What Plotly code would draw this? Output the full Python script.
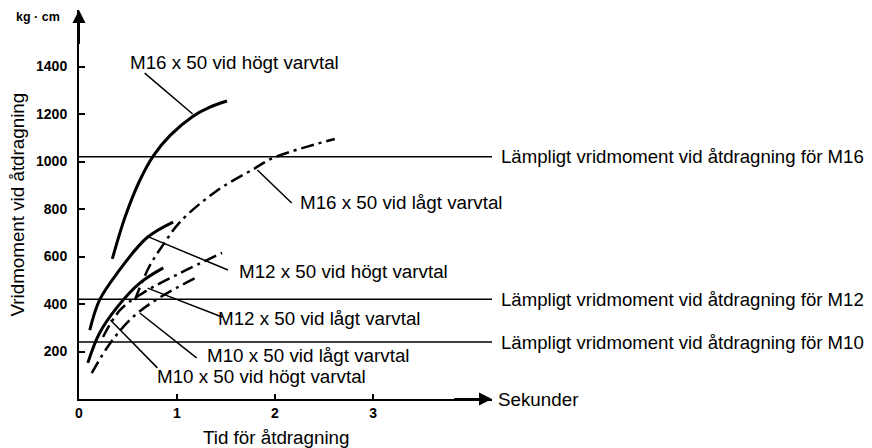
import plotly.graph_objects as go

# ---- data ----
m16_hi_x = [0.34, 0.47, 0.62, 0.76, 0.93, 1.16, 1.33, 1.51]
m16_hi_y = [590, 766, 920, 1025, 1110, 1190, 1228, 1255]

m16_lo_x = [0.57, 0.72, 0.86, 1.03, 1.40, 1.78, 1.98, 2.61]
m16_lo_y = [417, 560, 650, 745, 875, 968, 1015, 1095]

m12_hi_x = [0.11, 0.21, 0.39, 0.69, 0.96]
m12_hi_y = [290, 417, 530, 678, 745]

m12_lo_x = [0.245, 0.42, 0.65, 1.03, 1.46]
m12_lo_y = [261, 375, 446, 530, 615]

m10_hi_x = [0.09, 0.21, 0.39, 0.62, 0.86]
m10_hi_y = [152, 278, 387, 488, 552]

m10_lo_x = [0.13, 0.32, 0.55, 0.83, 1.21]
m10_lo_y = [109, 236, 345, 429, 514]

ref_values = [1020, 420, 240]
ref_labels = ["Lämpligt vridmoment vid åtdragning för M16",
              "Lämpligt vridmoment vid åtdragning för M12",
              "Lämpligt vridmoment vid åtdragning för M10"]

x_ticks = [0, 1, 2, 3]
y_ticks = [200, 400, 600, 800, 1000, 1200, 1400]

curve_names = ["M16 x 50 vid högt varvtal", "M16 x 50 vid lågt varvtal",
               "M12 x 50 vid högt varvtal", "M12 x 50 vid lågt varvtal",
               "M10 x 50 vid högt varvtal", "M10 x 50 vid lågt varvtal"]

X_MAX = 4.214
Y_MAX = 1638
FONT = "Liberation Sans, Arial, sans-serif"
FS = 18.8

fig = go.Figure()

solid = dict(color="black", width=3)
dashdot = dict(color="black", width=2.5, dash="13px,5px,3px,5px")

series = [
    (m16_hi_x, m16_hi_y, solid),
    (m16_lo_x, m16_lo_y, dashdot),
    (m12_hi_x, m12_hi_y, solid),
    (m12_lo_x, m12_lo_y, dashdot),
    (m10_hi_x, m10_hi_y, solid),
    (m10_lo_x, m10_lo_y, dashdot),
]
for (xs, ys, ln), name in zip(series, curve_names):
    fig.add_trace(go.Scatter(x=xs, y=ys, mode="lines", name=name,
                             line=dict(shape="spline", smoothing=1.0, **ln),
                             showlegend=False, hoverinfo="skip"))

# reference lines
for v in ref_values:
    fig.add_trace(go.Scatter(x=[0, X_MAX], y=[v, v], mode="lines",
                             line=dict(color="black", width=1.5),
                             showlegend=False, hoverinfo="skip"))

annotations = []
for v, lab in zip(ref_values, ref_labels):
    annotations.append(dict(x=X_MAX, y=v, xref="x", yref="y", text=lab,
                            showarrow=False, xanchor="left", yanchor="middle",
                            xshift=7, font=dict(family=FONT, size=18.6, color="black")))

# curve labels: (label anchor x, y), leader end near label, leader end on curve
label_layout = [
    (0.50, 1419, (0.67, 1372), (1.16, 1200)),
    (2.235, 829, (2.17, 825), (1.82, 964)),
    (1.61, 539, (1.52, 543), (0.69, 686)),
    (1.40, 341, (1.46, 345), (0.70, 467)),
    (0.78, 93, (0.80, 131), (0.32, 333)),
    (1.29, 185, (1.20, 173), (0.62, 362)),
]
shapes = []
for name, (lx, ly, p0, p1) in zip(curve_names, label_layout):
    annotations.append(dict(x=lx, y=ly, xref="x", yref="y", text=name,
                            showarrow=False, xanchor="left", yanchor="middle",
                            font=dict(family=FONT, size=FS, color="black")))
    shapes.append(dict(type="line", xref="x", yref="y", x0=p0[0], y0=p0[1],
                       x1=p1[0], y1=p1[1], line=dict(color="black", width=1.5)))

# axis arrows
annotations.append(dict(x=0, y=Y_MAX, ax=0, ay=Y_MAX - 150, xref="x", yref="y",
                        axref="x", ayref="y", showarrow=True, arrowhead=2,
                        arrowsize=1.3, arrowwidth=2, arrowcolor="black", text=""))
annotations.append(dict(x=X_MAX, y=0, ax=X_MAX - 0.4, ay=0, xref="x", yref="y",
                        axref="x", ayref="y", showarrow=True, arrowhead=2,
                        arrowsize=1.3, arrowwidth=2, arrowcolor="black", text=""))

# axis texts
annotations.append(dict(x=-0.150, y=0.5, xref="paper", yref="paper",
                        text="Vridmoment vid åtdragning", textangle=-90,
                        showarrow=False, xanchor="center", yanchor="middle",
                        font=dict(family=FONT, size=FS, color="black")))
annotations.append(dict(x=0.477, y=-0.098, xref="paper", yref="paper",
                        text="Tid för åtdragning", showarrow=False,
                        xanchor="center", yanchor="middle",
                        font=dict(family=FONT, size=FS, color="black")))
annotations.append(dict(x=1.0, y=0, xref="paper", yref="paper", xshift=4,
                        text="Sekunder", showarrow=False,
                        xanchor="left", yanchor="middle",
                        font=dict(family=FONT, size=FS, color="black")))
annotations.append(dict(x=-0.099, y=0.982, xref="paper", yref="paper",
                        text="<b>kg · cm</b>", showarrow=False,
                        xanchor="center", yanchor="middle",
                        font=dict(family=FONT, size=12.5, color="black")))

# page body has an 8px margin: size the figure to fit the 872x448 window
fig.update_layout(
    width=864, height=440,
    margin=dict(l=71, r=380, t=2, b=49),
    paper_bgcolor="white", plot_bgcolor="white",
    annotations=annotations, shapes=shapes,
    xaxis=dict(range=[0, X_MAX], tickvals=x_ticks, ticktext=[str(t) for t in x_ticks],
               showgrid=False, zeroline=False, showline=True, linecolor="black",
               linewidth=2, ticks="inside", ticklen=5, tickwidth=1.5, tickcolor="black",
               tickfont=dict(family=FONT, size=14, color="black", weight="bold")),
    yaxis=dict(range=[0, Y_MAX], tickvals=y_ticks, ticktext=[str(t) for t in y_ticks],
               showgrid=False, zeroline=False, showline=True, linecolor="black",
               linewidth=2, ticks="inside", ticklen=6, tickwidth=1.5, tickcolor="black",
               ticklabelstandoff=7,
               tickfont=dict(family=FONT, size=14, color="black", weight="bold")),
)

fig.write_html("out.html")
